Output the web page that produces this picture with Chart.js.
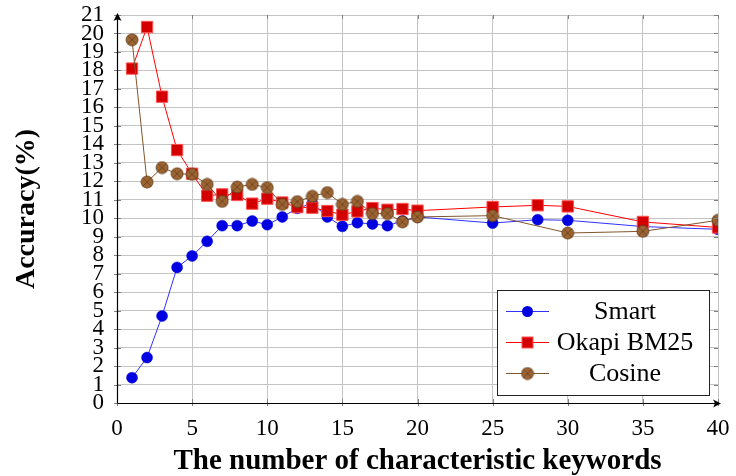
<!DOCTYPE html>
<html>
<head>
<meta charset="utf-8">
<script src="https://cdn.jsdelivr.net/npm/chart.js@4/dist/chart.umd.min.js"></script>
<style>
html,body{margin:0;padding:0;background:#fff;}
#wrap{width:736px;height:476px;}
</style>
</head>
<body>
<div id="wrap"><canvas id="c" width="736" height="476"></canvas></div>
<script>
// ---- data ----
const xSmart = [1,2,3,4,5,6,7,8,9,10,11,12,13,14,15,16,17,18,19,20,25,28,30,35,40];
const smart = [1.37,2.46,4.71,7.34,7.96,8.75,9.6,9.6,9.85,9.65,10.07,10.54,10.8,10.07,9.56,9.76,9.69,9.6,9.85,10.07,9.74,9.92,9.89,9.55,9.4];
const xOkapi = [1,2,3,4,5,6,7,8,9,10,11,12,13,14,15,16,17,18,19,20,25,28,30,35,40];
const okapi = [18.1,20.35,16.58,13.69,12.41,11.22,11.29,11.26,10.79,11.06,10.85,10.6,10.57,10.39,10.19,10.37,10.55,10.46,10.5,10.41,10.61,10.7,10.64,9.8,9.5];
const xCosine = [1,2,3,4,5,6,7,8,9,10,11,12,13,14,15,16,17,18,19,20,25,30,35,40];
const cosine = [19.66,11.96,12.74,12.41,12.38,11.83,10.91,11.69,11.83,11.66,10.75,10.9,11.19,11.39,10.75,10.91,10.25,10.25,9.8,10.07,10.14,9.2,9.29,9.89];
const seriesNames = ['Smart','Okapi BM25','Cosine'];
const xTitle = 'The number of characteristic keywords';
const yTitle = 'Accuracy(%)';
const xMin = 0, xMax = 40, xStep = 5;
const yMin = 0, yMax = 21, yStep = 1;

const SERIF = "'Liberation Serif', 'DejaVu Serif', serif";

function pts(xs, ys){ return xs.map((x,i)=>({x:x, y:ys[i]})); }

// brown circle-with-cross marker
function makeCrossCircle(){
  const c = document.createElement('canvas');
  c.width = 14; c.height = 14;
  const g = c.getContext('2d');
  g.beginPath(); g.arc(7,7,6,0,Math.PI*2);
  g.fillStyle = '#9b6432'; g.fill();
  g.lineWidth = 0.8; g.strokeStyle = '#5e3a18'; g.stroke();
  const d = 6*Math.SQRT1_2;
  g.beginPath();
  g.moveTo(7-d,7-d); g.lineTo(7+d,7+d);
  g.moveTo(7+d,7-d); g.lineTo(7-d,7+d);
  g.lineWidth = 0.7; g.strokeStyle = '#5e3a18'; g.stroke();
  return c;
}
const crossCircle = makeCrossCircle();

const axisDecor = {
  id: 'axisDecor',
  afterDraw(chart){
    const ctx = chart.ctx, a = chart.chartArea;
    const xs = chart.scales.x, ys = chart.scales.y;
    ctx.save();
    ctx.strokeStyle = '#808080'; ctx.lineWidth = 1;
    ctx.beginPath();
    for (let v = yMin; v <= yMax; v += yStep){
      const y = Math.round(ys.getPixelForValue(v)) + 0.5;
      ctx.moveTo(a.left - 3, y); ctx.lineTo(a.left + 4, y);
      ctx.moveTo(a.right - 4, y); ctx.lineTo(a.right, y);
    }
    for (let v = xMin; v <= xMax; v += xStep){
      const x = Math.round(xs.getPixelForValue(v)) + 0.5;
      ctx.moveTo(x, a.bottom + 3); ctx.lineTo(x, a.bottom - 4);
      ctx.moveTo(x, a.top); ctx.lineTo(x, a.top + 4);
    }
    ctx.stroke();
    ctx.strokeStyle = '#000'; ctx.fillStyle = '#000'; ctx.lineWidth = 1.2;
    const L = a.left + 0.5, B = a.bottom + 0.5;
    ctx.beginPath();
    ctx.moveTo(L, B); ctx.lineTo(a.right + 2, B);
    ctx.moveTo(L, B); ctx.lineTo(L, a.top - 1);
    ctx.stroke();
    ctx.beginPath();
    ctx.moveTo(a.right + 3, B); ctx.lineTo(a.right - 5, B - 4);
    ctx.quadraticCurveTo(a.right - 2, B, a.right - 5, B + 4);
    ctx.closePath(); ctx.fill();
    ctx.beginPath();
    ctx.moveTo(L, a.top - 2); ctx.lineTo(L - 4, a.top + 6);
    ctx.quadraticCurveTo(L, a.top + 3, L + 4, a.top + 6);
    ctx.closePath(); ctx.fill();
    ctx.restore();
  }
};

const boxLegend = {
  id: 'boxLegend',
  afterDraw(chart){
    const ctx = chart.ctx;
    const left = 497, top = 290, w = 212, h = 105;
    ctx.save();
    ctx.fillStyle = '#fff';
    ctx.fillRect(left, top, w, h);
    ctx.strokeStyle = '#222'; ctx.lineWidth = 1;
    ctx.strokeRect(left + 0.5, top + 0.5, w, h);
    const rows = [311, 342, 373];
    chart.data.datasets.forEach((ds, i) => {
      const y = rows[i];
      ctx.strokeStyle = ds.borderColor; ctx.lineWidth = 1.2;
      ctx.beginPath(); ctx.moveTo(506, y + 0.5); ctx.lineTo(549, y + 0.5); ctx.stroke();
      const mx = 527.5;
      if (ds.pointStyle === 'circle'){
        ctx.beginPath(); ctx.arc(mx, y + 0.5, 5.5, 0, Math.PI*2);
        ctx.fillStyle = ds.pointBackgroundColor; ctx.fill();
      } else if (ds.pointStyle === 'rect'){
        ctx.fillStyle = ds.pointBackgroundColor;
        ctx.fillRect(mx - 5.5, y - 5, 11, 11);
        ctx.strokeStyle = ds.pointBorderColor; ctx.lineWidth = 1;
        ctx.strokeRect(mx - 5.5, y - 5, 11, 11);
      } else {
        ctx.drawImage(ds.pointStyle, mx - 7, y + 0.5 - 7);
      }
      ctx.fillStyle = '#000';
      ctx.font = '26px ' + SERIF;
      ctx.textAlign = 'center'; ctx.textBaseline = 'middle';
      ctx.fillText(ds.label, 625, y + 1);
    });
    ctx.restore();
  }
};

new Chart(document.getElementById('c'), {
  type: 'line',
  data: {
    datasets: [
      { label: seriesNames[0], data: pts(xSmart, smart), borderColor: '#3030ff', borderWidth: 1,
        pointStyle: 'circle', pointRadius: 5.5, pointBackgroundColor: '#0000e0', pointBorderColor: '#0000e0', pointBorderWidth: 0.5, order: 3 },
      { label: seriesNames[1], data: pts(xOkapi, okapi), borderColor: '#ff0000', borderWidth: 1,
        pointStyle: 'rect', pointRadius: 8, pointBackgroundColor: '#d40000', pointBorderColor: '#ff5050', pointBorderWidth: 1, order: 2 },
      { label: seriesNames[2], data: pts(xCosine, cosine), borderColor: '#80562c', borderWidth: 1,
        pointStyle: crossCircle, pointRadius: 7, pointBackgroundColor: '#9b6432', pointBorderColor: '#5e3a18', order: 1 }
    ]
  },
  options: {
    responsive: false,
    animation: false,
    layout: { padding: { top: 15, right: 18, left: 0, bottom: 0 } },
    plugins: { legend: { display: false }, tooltip: { enabled: false } },
    elements: { line: { tension: 0 } },
    scales: {
      x: {
        type: 'linear', min: xMin, max: xMax,
        ticks: { stepSize: xStep, color: '#000', font: { family: SERIF, size: 23 }, padding: 12, maxRotation: 0 },
        grid: { color: '#c4c4c4', drawTicks: false, lineWidth: 1 },
        border: { display: false },
        title: { display: true, text: xTitle, color: '#000', font: { family: SERIF, size: 29, weight: 'bold', lineHeight: 1 }, padding: { top: 4, bottom: 0 } },
        afterFit(s){ s.height = 73; s.paddingLeft = 0; s.paddingRight = 0; }
      },
      y: {
        type: 'linear', min: yMin, max: yMax,
        ticks: { stepSize: yStep, color: '#000', font: { family: SERIF, size: 23 }, padding: 13, autoSkip: false },
        grid: { color: '#c4c4c4', drawTicks: false, lineWidth: 1 },
        border: { display: false },
        title: { display: true, text: yTitle, color: '#000', font: { family: SERIF, size: 28, weight: 'bold', lineHeight: 1 }, padding: { top: 13, bottom: 0 } },
        afterFit(s){ s.width = 117; s.paddingTop = 0; s.paddingBottom = 0; }
      }
    }
  },
  plugins: [axisDecor, boxLegend]
});
</script>
</body>
</html>
